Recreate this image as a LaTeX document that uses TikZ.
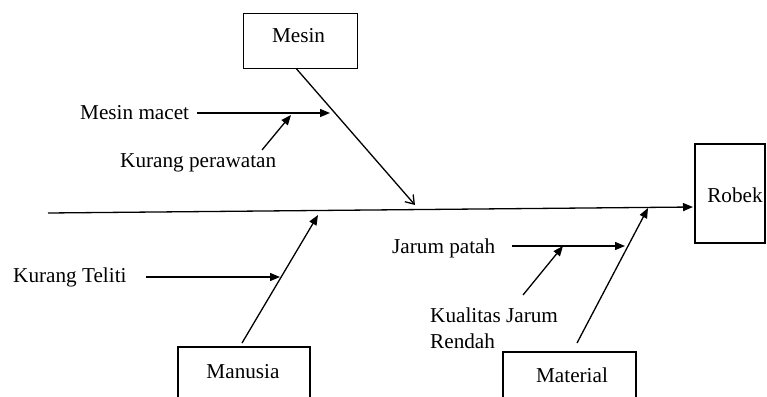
\documentclass[tikz,border=0pt]{standalone}
\usepackage{fontspec}
\setmainfont{Liberation Serif}
\usetikzlibrary{arrows.meta}
\begin{document}
\begin{tikzpicture}[x=1pt,y=-1pt,
  bone/.style={line width=1.3pt},
  causearrow/.style={line width=1.3pt,-{Triangle[length=10pt,width=8pt]}},
  openarrow/.style={line width=1.3pt,-{Straight Barb[length=8pt,width=11pt]}},
  box/.style={draw,line width=1.3pt,inner sep=0pt},
  lbl/.style={font=\fontsize{21.2}{26}\selectfont,inner sep=0pt}]
\useasboundingbox (0,0) rectangle (767,396);
% boxes
\node[box,minimum width=114pt,minimum height=55pt] (mesin) at (300.3,40.8) {};
\node[box,minimum width=132pt,minimum height=55pt] (manusia) at (244,374.5) {};
\node[box,minimum width=133pt,minimum height=55pt] (material) at (569.5,379.5) {};
\node[box,minimum width=70pt,minimum height=99pt] (robek) at (730,193.5) {};
% box labels
\node[lbl,anchor=base] (tmesin) at (298.5,43) {Mesin};
\node[lbl,anchor=base] (tmanusia) at (243,378) {Manusia};
\node[lbl,anchor=base] (tmaterial) at (572,382) {Material};
\node[lbl,anchor=base] (trobek) at (735,202) {Robek};
% cause labels
\node[lbl,anchor=base west] (tmacet) at (80,119) {Mesin macet};
\node[lbl,anchor=base west] (trawat) at (120,167) {Kurang perawatan};
\node[lbl,anchor=base west] (tteliti) at (13,282) {Kurang Teliti};
\node[lbl,anchor=base west] (tpatah) at (392,253) {Jarum patah};
\node[lbl,anchor=base west] (tkual) at (430,322) {Kualitas Jarum};
\node[lbl,anchor=base west] (trendah) at (430,348) {Rendah};
% coordinates
\coordinate (spineL) at (48,213);
\coordinate (spineR) at (693,207);
\coordinate (mS) at (296,68.3);
\coordinate (mT) at (415,205);
\coordinate (mmS) at (197,113);
\coordinate (mmT) at (330,113);
\coordinate (kpS) at (262,150);
\coordinate (kpT) at (291,115);
\coordinate (maS) at (242,343);
\coordinate (maT) at (318,215);
\coordinate (ktS) at (146,277);
\coordinate (ktT) at (280,277);
\coordinate (mtS) at (577,343);
\coordinate (mtT) at (648,208);
\coordinate (jpS) at (512,246);
\coordinate (jpT) at (625,246);
\coordinate (kjS) at (523,295);
\coordinate (kjT) at (563,246);
% connectors
\draw[causearrow] (spineL) -- (spineR);
\draw[openarrow] (mS) -- (mT);
\draw[causearrow] (mmS) -- (mmT);
\draw[causearrow] (kpS) -- (kpT);
\draw[causearrow] (maS) -- (maT);
\draw[causearrow] (ktS) -- (ktT);
\draw[causearrow] (mtS) -- (mtT);
\draw[causearrow] (jpS) -- (jpT);
\draw[causearrow] (kjS) -- (kjT);
\end{tikzpicture}
\end{document}
